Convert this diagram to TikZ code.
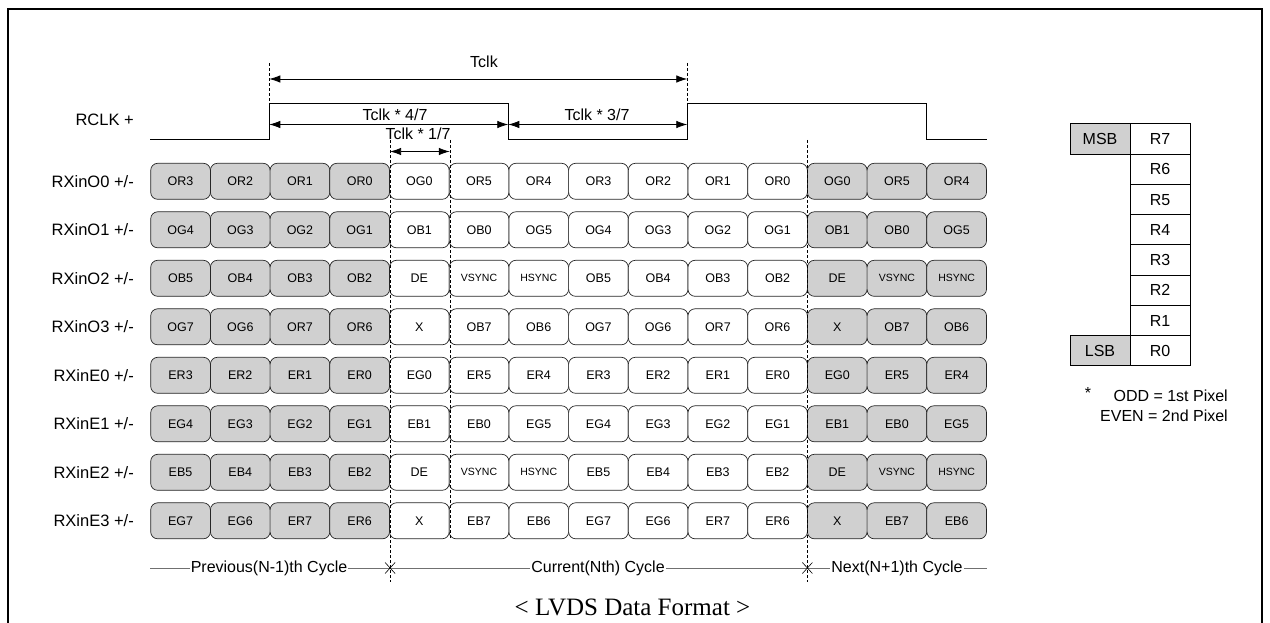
\documentclass[tikz,border=0pt]{standalone}
\usepackage{fontspec}
\setmainfont{Liberation Sans}
\newfontfamily\titlefont{Liberation Serif}
\usetikzlibrary{arrows.meta}
\definecolor{cellgray}{HTML}{D0D0D0}
\definecolor{linegray}{HTML}{707070}
\newcommand\sy{\fontsize{10.5}{12}\selectfont}
\tikzset{
  cell/.style={draw=black!85, line width=0.7pt, rounded corners=7pt, minimum width=59.7pt, minimum height=36pt, inner sep=0pt, font=\fontsize{12.5}{14}\selectfont},
  rowlabel/.style={anchor=east, inner sep=0pt, font=\fontsize{16.5}{18}\selectfont},
  dimlabel/.style={inner sep=0pt, font=\fontsize{16}{18}\selectfont},
  dim/.style={line width=0.8pt, {Latex[length=11pt,width=7.5pt]}-{Latex[length=11pt,width=7.5pt]}},
  guide/.style={line width=0.6pt, dash pattern=on 3pt off 2pt},
  clk/.style={line width=1pt, line join=miter},
  box/.style={draw=black, line width=1pt, minimum width=60pt, minimum height=30.25pt, inner sep=0pt, font=\fontsize{16}{18}\selectfont},
  cyc/.style={fill=white, inner sep=1pt, font=\fontsize{16}{18}\selectfont},
  cycline/.style={draw=linegray, line width=1pt},
  xmark/.style={draw=black, line width=0.6pt},
}
\begin{document}
\begin{tikzpicture}[x=1pt,y=-1pt]
\useasboundingbox (0,0) rectangle (1270,623);
% frame
\draw[line width=2pt] (7.5,624) -- (7.5,9) -- (1262,9) -- (1262,624);

% clock waveform
\coordinate (cS) at (150,139.3);
\coordinate (r1L) at (269.3,139.3);
\coordinate (r1H) at (269.3,103.3);
\coordinate (f1H) at (508.3,103.3);
\coordinate (f1L) at (508.3,139.3);
\coordinate (r2L) at (687.3,139.3);
\coordinate (r2H) at (687.3,103.3);
\coordinate (f2H) at (926.7,103.3);
\coordinate (f2L) at (926.7,139.3);
\coordinate (cE) at (986.7,139.3);
\draw[clk] (cS) -- (r1L) -- (r1H) -- (f1H) -- (f1L) -- (r2L) -- (r2H) -- (f2H) -- (f2L) -- (cE);
\node[rowlabel] (lclk) at (134,120) {RCLK +};

% guides at clock rises
\coordinate (g1t) at (269.3,63);
\coordinate (g2t) at (687.3,63);
\draw[guide] (g1t) -- (r1H);
\draw[guide] (g2t) -- (r2H);

% Tclk
\coordinate (tA) at (269.3,79);
\coordinate (tB) at (687.3,79);
\draw[dim] (tA) -- (tB);
\node[dimlabel] (ltclk) at (484,62) {Tclk};
% 4/7 and 3/7
\coordinate (qA) at (269.3,124.5);
\coordinate (qB) at (508.3,124.5);
\coordinate (qC) at (687.3,124.5);
\draw[dim] (qA) -- (qB);
\draw[dim] (qB) -- (qC);
\node[dimlabel] (l47) at (395,115) {Tclk * 4/7};
\node[dimlabel] (l37) at (597,115) {Tclk * 3/7};
% 1/7
\coordinate (sA) at (390.1,151.5);
\coordinate (sB) at (449.8,151.5);
\draw[dim] (sA) -- (sB);
\node[dimlabel] (l17) at (418,134) {Tclk * 1/7};

% long guides
\coordinate (d1t) at (390.1,140);
\coordinate (d1b) at (390.1,582);
\coordinate (d2t) at (449.8,140);
\coordinate (d2b) at (449.8,539);
\coordinate (d3t) at (807.4,140);
\coordinate (d3b) at (807.4,582);

% data cells
\foreach \r/\nm/\lst in {
 0/O0/{OR3,OR2,OR1,OR0,OG0,OR5,OR4,OR3,OR2,OR1,OR0,OG0,OR5,OR4},
 1/O1/{OG4,OG3,OG2,OG1,OB1,OB0,OG5,OG4,OG3,OG2,OG1,OB1,OB0,OG5},
 2/O2/{OB5,OB4,OB3,OB2,DE,\sy VSYNC,\sy HSYNC,OB5,OB4,OB3,OB2,DE,\sy VSYNC,\sy HSYNC},
 3/O3/{OG7,OG6,OR7,OR6,X,OB7,OB6,OG7,OG6,OR7,OR6,X,OB7,OB6},
 4/E0/{ER3,ER2,ER1,ER0,EG0,ER5,ER4,ER3,ER2,ER1,ER0,EG0,ER5,ER4},
 5/E1/{EG4,EG3,EG2,EG1,EB1,EB0,EG5,EG4,EG3,EG2,EG1,EB1,EB0,EG5},
 6/E2/{EB5,EB4,EB3,EB2,DE,\sy VSYNC,\sy HSYNC,EB5,EB4,EB3,EB2,DE,\sy VSYNC,\sy HSYNC},
 7/E3/{EG7,EG6,ER7,ER6,X,EB7,EB6,EG7,EG6,ER7,ER6,X,EB7,EB6}} {
  \node[rowlabel] (lab\r) at (134,{181.3+48.5*\r}) {RXin\nm{} +/-};
  \foreach \lab [count=\c from 0] in \lst {
    \ifnum\c<4 \def\fc{cellgray}\else\ifnum\c>10 \def\fc{cellgray}\else\def\fc{white}\fi\fi
    \node[cell, fill=\fc] (c\r-\c) at ({150.7+59.7*\c+29.85},{181.3+48.5*\r}) {\lab};
  }
}

\draw[guide] (d1t) -- (d1b);
\draw[guide] (d2t) -- (d2b);
\draw[guide] (d3t) -- (d3b);

% cycle line
\coordinate (cyS) at (150,568);
\coordinate (cyX1) at (390.1,568);
\coordinate (cyX2) at (807.4,568);
\coordinate (cyE) at (987,568);
\draw[cycline] (cyS) -- (cyE);
\foreach \p in {cyX1,cyX2} {
  \draw[xmark] ([shift={(-5,-5.5)}]\p) -- ([shift={(5,5.5)}]\p);
  \draw[xmark] ([shift={(-5,5.5)}]\p) -- ([shift={(5,-5.5)}]\p);
}
\node[cyc] (cprev) at (269,568) {Previous(N-1)th Cycle};
\node[cyc] (ccur) at (598,568) {Current(Nth) Cycle};
\node[cyc] (cnext) at (897,568) {Next(N+1)th Cycle};

% title
\node[inner sep=0pt, font=\titlefont\fontsize{25}{28}\selectfont] (title) at (632.5,607) {< LVDS Data Format >};

% legend
\node[box, fill=cellgray] (msb) at (1100,139.1) {MSB};
\foreach \b [count=\i from 0] in {7,6,5,4,3,2,1,0} {
  \node[box, fill=white] (R\b) at (1160,{139.1+30.25*\i}) {R\b};
}
\node[box, fill=cellgray] (lsb) at (1100,{139.1+30.25*7}) {LSB};

\node[inner sep=0pt, anchor=east, font=\fontsize{16}{18}\selectfont] (odd) at (1228,396) {ODD = 1st Pixel};
\node[inner sep=0pt, anchor=east, font=\fontsize{16}{18}\selectfont] (even) at (1228,416) {EVEN = 2nd Pixel};
\node[inner sep=0pt, font=\fontsize{16}{18}\selectfont] (star) at (1088,393) {*};
\end{tikzpicture}
\end{document}
